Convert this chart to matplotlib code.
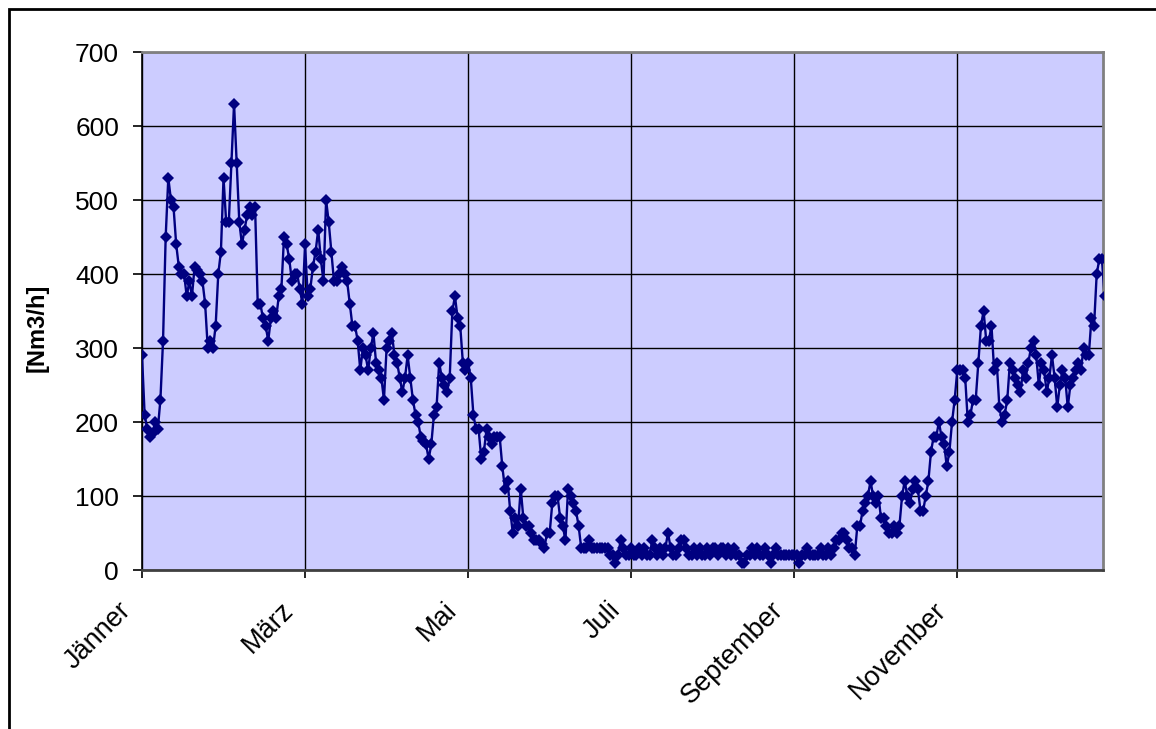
import matplotlib
matplotlib.use("Agg")
import matplotlib.pyplot as plt
import matplotlib.transforms as mtransforms
import numpy as np
from matplotlib.patches import Rectangle

plt.rcParams['font.family'] = ['Liberation Sans', 'DejaVu Sans']

# Tagesmittel Gasverbrauch [Nm3/h], in Blöcken zu je zwei Monaten (62 Tage)
jan_feb = [290, 210, 190, 180, 185, 200, 190, 230, 310, 450, 530, 500, 490, 440, 410, 400,
           400, 370, 390, 370, 410, 405, 400, 390, 360, 300, 310, 300, 330, 400, 430, 530,
           470, 470, 550, 630, 550, 470, 440, 460, 480, 490, 480, 490, 360, 360, 340, 330,
           310, 340, 350, 340, 370, 380, 450, 440, 420, 390, 400, 400, 380, 360]
mar_apr = [440, 370, 380, 410, 430, 460, 420, 390, 500, 470, 430, 390, 390, 400, 410, 400,
           390, 360, 330, 330, 310, 270, 300, 290, 270, 300, 320, 280, 270, 260, 230, 300,
           310, 320, 290, 280, 260, 240, 260, 290, 260, 230, 210, 200, 180, 175, 170, 150,
           170, 210, 220, 280, 260, 250, 240, 260, 350, 370, 340, 330, 280, 270]
mai_jun = [280, 260, 210, 190, 190, 150, 160, 190, 180, 170, 180, 180, 180, 140, 110, 120,
           80, 50, 70, 60, 110, 70, 60, 60, 50, 40, 40, 40, 35, 30, 50, 50,
           90, 100, 100, 70, 60, 40, 110, 100, 90, 80, 60, 30, 30, 30, 40, 30,
           30, 30, 30, 30, 30, 30, 20, 20, 10, 20, 40, 30, 20, 20]
jul_aug = [30, 20, 20, 30, 20, 30, 20, 20, 40, 30, 20, 30, 20, 30, 50, 30,
           20, 20, 30, 40, 40, 30, 20, 20, 30, 20, 30, 20, 20, 30, 20, 30,
           30, 20, 30, 30, 20, 30, 20, 30, 20, 20, 10, 10, 20, 20, 30, 20,
           30, 20, 20, 30, 20, 10, 20, 30, 20, 20, 20, 20, 20, 20]
sep_okt = [20, 20, 10, 20, 20, 30, 20, 20, 20, 20, 30, 20, 20, 30, 20, 30,
           40, 40, 50, 50, 40, 30, 30, 20, 60, 60, 80, 90, 100, 120, 100, 90,
           100, 70, 70, 60, 50, 50, 60, 50, 60, 100, 120, 100, 90, 110, 120, 110,
           80, 80, 100, 120, 160, 180, 180, 200, 180, 170, 140, 160, 200, 230]
nov_dez = [270, 270, 270, 260, 200, 210, 230, 230, 280, 330, 350, 310, 310, 330, 270, 280,
           220, 200, 210, 230, 280, 270, 260, 250, 240, 270, 260, 280, 300, 310, 290, 250,
           280, 270, 240, 260, 290, 260, 220, 250, 270, 260, 220, 250, 260, 270, 280, 270,
           300, 290, 290, 340, 330, 400, 420, 420, 370]

monate = ['Jänner', 'März', 'Mai', 'Juli', 'September', 'November']

werte = np.array(jan_feb + mar_apr + mai_jun + jul_aug + sep_okt + nov_dez)
tage = np.arange(len(werte))

fig = plt.figure(figsize=(11.56, 7.29), dpi=100)
ax = fig.add_axes([142/1156, 1 - 570/729, (1103 - 142)/1156, (570 - 52)/729])
ax.set_facecolor('#CCCCFF')

ax.plot(tage, werte, color='#000080', lw=1.7, marker='D', markersize=6.5,
        markeredgewidth=0, zorder=3)

ax.set_xlim(0, 365.4)
ax.set_ylim(0, 700)
ax.set_yticks(np.arange(0, 701, 100))
ax.set_xticks(np.arange(len(monate)) * 62)
ax.set_xticklabels(monate, rotation=45, ha='right', va='center',
                   rotation_mode='anchor', fontsize=19.5)
ax.tick_params(axis='y', labelsize=19, length=6.5, width=1.2, pad=10)
ax.tick_params(axis='x', length=6, width=1.2, pad=20)

# Monatsnamen etwas nach links versetzen
versatz = mtransforms.ScaledTranslation(-15/100, 0, fig.dpi_scale_trans)
for lbl in ax.get_xticklabels():
    lbl.set_transform(lbl.get_transform() + versatz)

ax.grid(True, color='black', linewidth=1.0)
ax.set_axisbelow(True)
for side in ['top', 'right']:
    ax.spines[side].set_color('#808080')
    ax.spines[side].set_linewidth(2)
ax.spines['bottom'].set_color('#404040')
ax.spines['bottom'].set_linewidth(2)
ax.spines['left'].set_color('black')
ax.spines['left'].set_linewidth(1.2)

ax.set_ylabel('[Nm3/h]', fontweight='bold', fontsize=17, va='center')
ax.yaxis.set_label_coords(-0.109, 0.467)

# Diagrammrahmen
fig.patches.append(Rectangle((9/1156, -0.2), 1.1, 1.2 - 9/729, transform=fig.transFigure,
                             fill=False, edgecolor='black', linewidth=2))

fig.savefig('out.png', dpi=100)
